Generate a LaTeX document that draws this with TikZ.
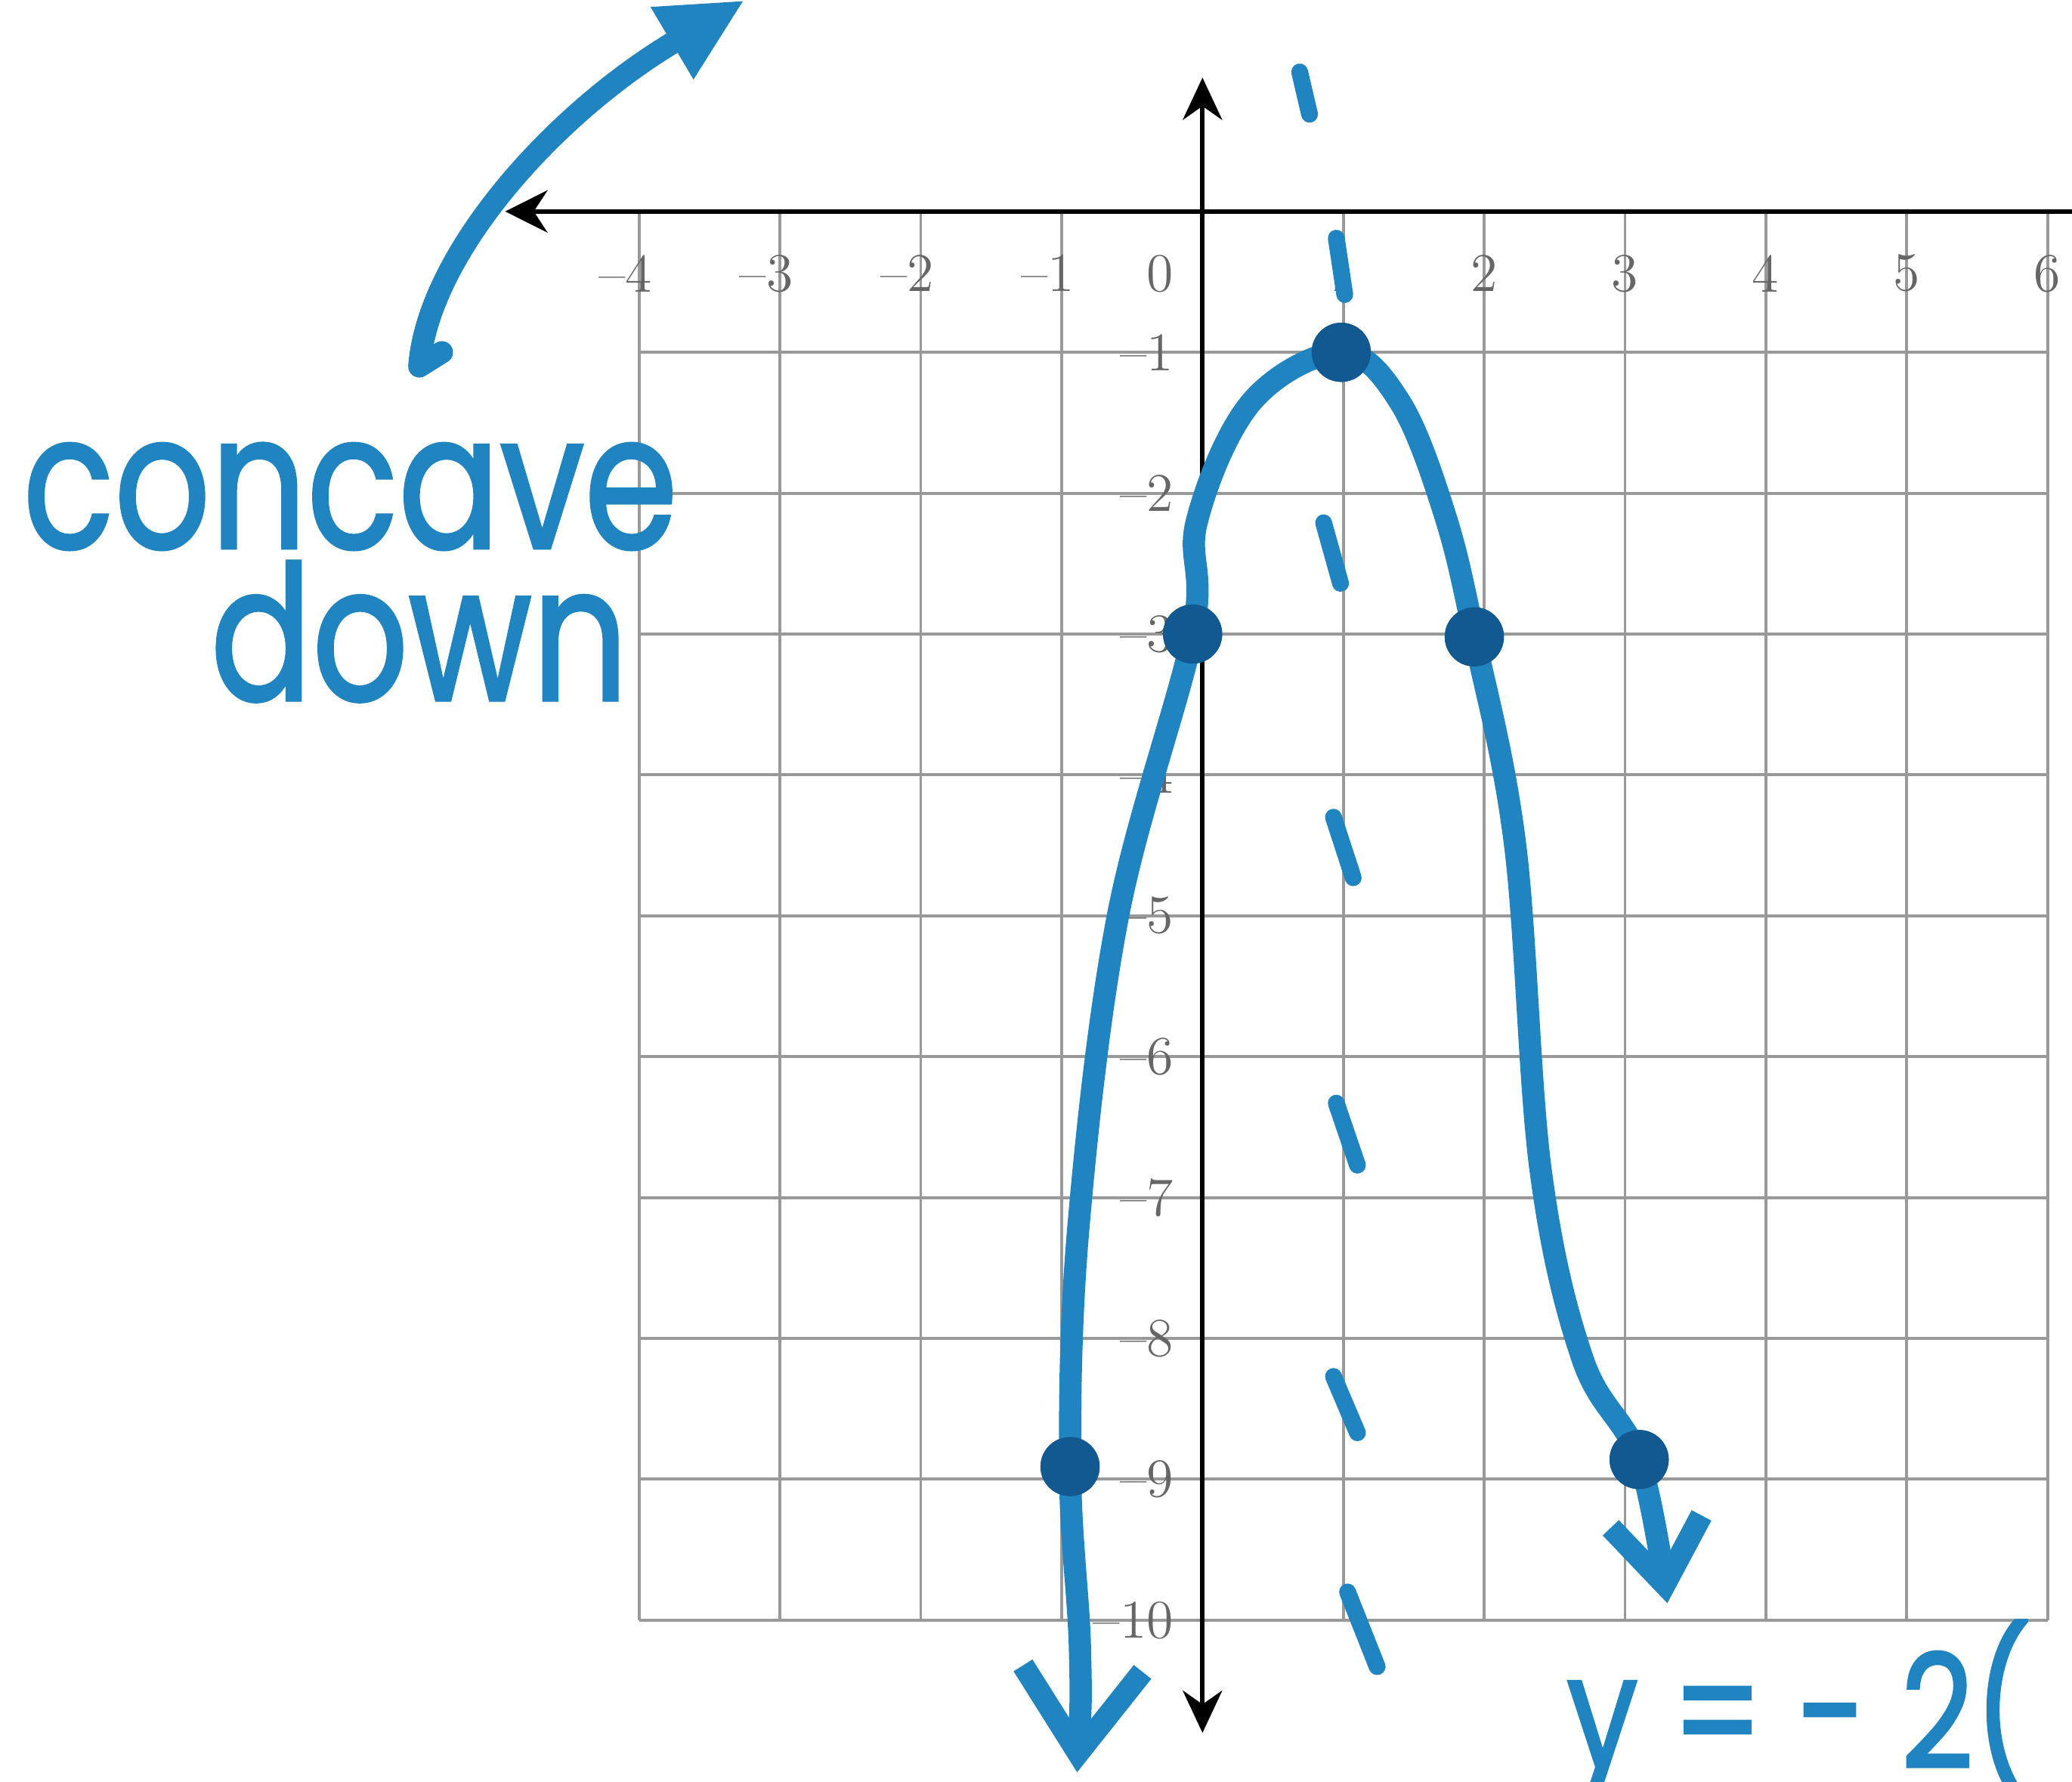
\documentclass[tikz,border=0pt]{standalone}
\usepackage{fontspec}
\usepackage{tikz}
\usetikzlibrary{arrows.meta}
\newfontfamily\handfont[UprightFeatures={FakeBold=1.6}]{Poppins}
\definecolor{penblue}{RGB}{32,132,192}
\definecolor{dotblue}{RGB}{18,88,145}
\tikzstyle{grid_line} = [draw=black!40, line width=0.6pt]
\tikzstyle{axis_line} = [draw=black, line width=0.9pt]
\tikzstyle{tick_label} = [text=black!60, font=\fontsize{11}{12}\selectfont, inner sep=0pt, anchor=east]
\tikzstyle{curve_blue} = [draw=penblue, line width=4.5pt, line cap=round, line join=round]
\tikzstyle{dash_blue} = [draw=penblue, line width=3.4pt, line cap=round]
\tikzstyle{point_dot} = [circle, fill=dotblue, inner sep=0pt, minimum size=0.42cm]
\tikzstyle{hand_text} = [text=penblue, font=\handfont\fontsize{38}{38}\selectfont, inner sep=0pt, anchor=base, xscale=0.8]

\begin{document}
\begin{tikzpicture}
\useasboundingbox (-8.537,-11.144) rectangle (6.173,1.501);

% grid and axes
\draw[grid_line] (-4,-10) grid (6,0);

\node (xl_m4) at (-3.9,-0.44) [tick_label] {--4};
\node (xl_m3) at (-2.9,-0.44) [tick_label] {--3};
\node (xl_m2) at (-1.9,-0.44) [tick_label] {--2};
\node (xl_m1) at (-0.9,-0.44) [tick_label] {--1};
\node (xl_0) at (-0.2,-0.44) [tick_label] {0};
\node (xl_1) at (1.1,-0.44) [tick_label] {1};
\node (xl_2) at (2.1,-0.44) [tick_label] {2};
\node (xl_3) at (3.1,-0.44) [tick_label] {3};
\node (xl_4) at (4.1,-0.44) [tick_label] {4};
\node (xl_5) at (5.1,-0.44) [tick_label] {5};
\node (xl_6) at (6.1,-0.44) [tick_label] {6};

\node (yl_1) at (-0.2,-1) [tick_label] {--1};
\node (yl_2) at (-0.2,-2) [tick_label] {--2};
\node (yl_3) at (-0.2,-3) [tick_label] {--3};
\node (yl_4) at (-0.2,-4) [tick_label] {--4};
\node (yl_5) at (-0.2,-5) [tick_label] {--5};
\node (yl_6) at (-0.2,-6) [tick_label] {--6};
\node (yl_7) at (-0.2,-7) [tick_label] {--7};
\node (yl_8) at (-0.2,-8) [tick_label] {--8};
\node (yl_9) at (-0.2,-9) [tick_label] {--9};
\node (yl_10) at (-0.2,-10) [tick_label] {--10};

\coordinate (x_left) at (-4.95,0);
\coordinate (x_right) at (6.4,0);
\coordinate (y_top) at (0,0.95);
\coordinate (y_bottom) at (0,-10.8);
\draw[axis_line, -{Stealth[length=0.3cm, width=0.3cm]}] (x_right) -- (x_left);
\draw[axis_line, {Stealth[length=0.3cm, width=0.28cm]}-{Stealth[length=0.3cm, width=0.28cm]}] (y_bottom) -- (y_top);

% axis of symmetry x = 1
\draw[dash_blue] (0.69,0.99)--(0.76,0.69) (0.95,-0.19)--(1.01,-0.59)
  (0.86,-2.21)--(0.98,-2.64) (0.93,-4.3)--(1.07,-4.73)
  (0.95,-6.33)--(1.1,-6.77) (0.93,-8.27)--(1.1,-8.67)
  (1.03,-9.8)--(1.24,-10.33);

% plotted points
\node (V) at (0.985,-1) [point_dot] {};
\node (P0) at (-0.07,-3) [point_dot] {};
\node (P2) at (1.93,-3.02) [point_dot] {};
\node (Pm1) at (-0.94,-8.91) [point_dot] {};
\node (P3) at (3.1,-8.86) [point_dot] {};
\coordinate (tail_left) at (-0.89,-11.08);
\coordinate (tail_right) at (3.3,-9.88);

% parabola
\draw[curve_blue, {Straight Barb[length=0.6cm, width=0.85cm]}-{Straight Barb[length=0.45cm, width=0.65cm]}]
  plot[smooth, tension=0.6] coordinates {(tail_left) (-0.87,-10.2) (Pm1.center)
  (-0.88,-7.2) (-0.6,-5) (P0.center) (-0.04,-2.2) (0.35,-1.35) (V.center)
  (1.4,-1.35) (1.72,-2.15) (P2.center) (2.22,-4.5) (2.4,-6.8) (2.7,-8.15) (P3.center)
  (tail_right)};
\node[point_dot] at (V) {};
\node[point_dot] at (P0) {};
\node[point_dot] at (P2) {};
\node[point_dot] at (Pm1) {};
\node[point_dot] at (P3) {};

% notes
\node (concave) at (-6.05,-2.39) [hand_text] {concave};
\node (down) at (-5.56,-3.47) [hand_text] {down};
\coordinate (hook) at (-5.4,-1.0);
\coordinate (hook_low) at (-5.56,-1.1);
\coordinate (note_tip) at (-3.25,1.5);
\draw[curve_blue, -{Triangle[length=0.6cm, width=0.55cm]}] (hook) -- (hook_low)
  .. controls (-5.5,-0.3) and (-4.6,0.7) .. (note_tip);
\node (eqn) at (2.58,-11.05) [hand_text, anchor=base west, font=\handfont\fontsize{32}{32}\selectfont] {y = - 2(};
\end{tikzpicture}
\end{document}
